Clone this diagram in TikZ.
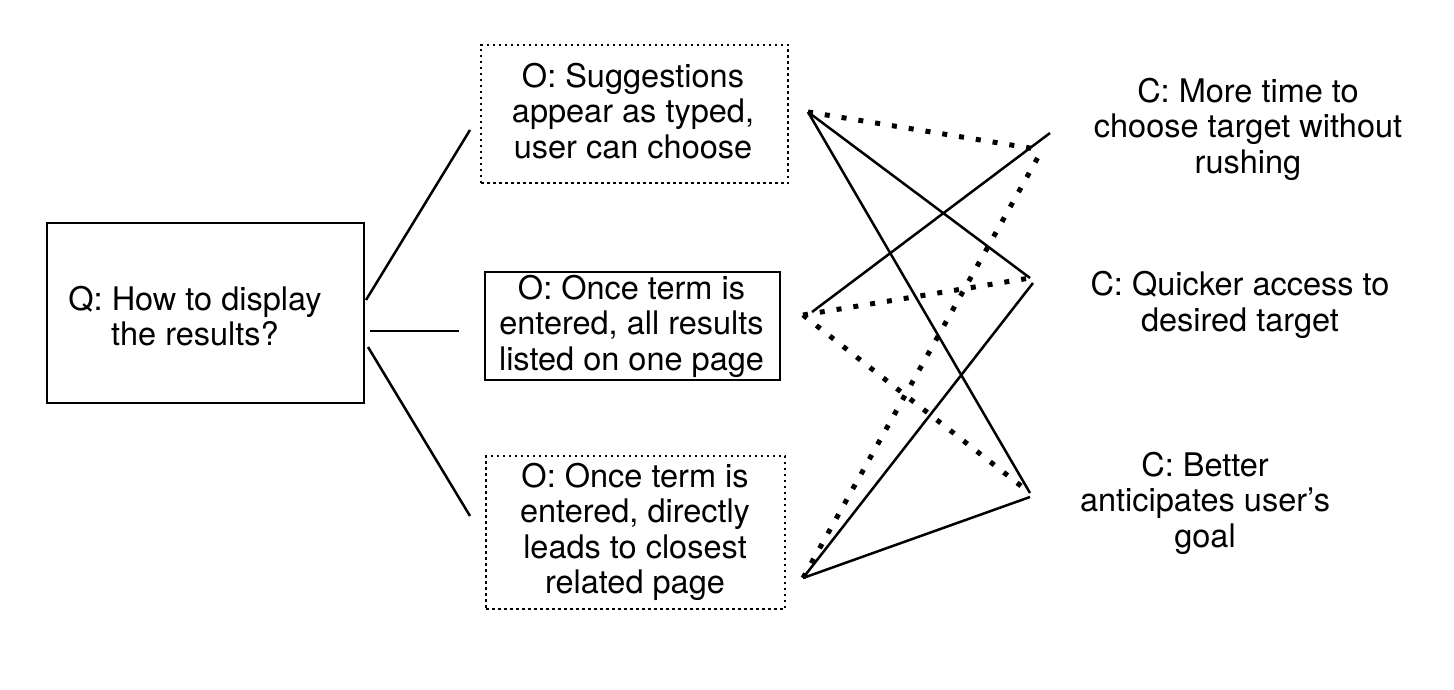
\documentclass[tikz,border=0pt]{standalone}
\usepackage{fontspec}
\setmainfont{TeX Gyre Heros}
\begin{document}
\begin{tikzpicture}[x=1pt,y=-1pt,
  txt/.style={font=\fontsize{32.5}{35.5}\selectfont, align=center, inner sep=0pt},
  frame/.style={draw, line width=2.5pt, rectangle, inner sep=0pt},
  solidbox/.style={frame},
  dotbox/.style={frame, dash pattern=on 2.5pt off 3.5pt},
  link/.style={line width=2.5pt},
  dotlink/.style={line width=5pt, dash pattern=on 5pt off 12pt}]
\useasboundingbox[fill=white] (0,0) rectangle (1454,690);

% frames
\node[solidbox, minimum width=317pt, minimum height=180pt] (qbox) at (205.5,313) {};
\node[dotbox, minimum width=307pt, minimum height=138pt] (o1box) at (634.5,114) {};
\node[solidbox, minimum width=295pt, minimum height=108pt] (o2box) at (632.5,326) {};
\node[dotbox, minimum width=299pt, minimum height=153pt] (o3box) at (635.5,532.5) {};

% texts
\node[txt] (q) at (195,316) {Q: How to display\\the results?};
\node[txt] (o1) at (633,111) {O: Suggestions\\appear as typed,\\user can choose};
\node[txt] (o2) at (631.5,326) {O: Once term is\\entered, all results\\listed on one page};
\node[txt] (o3) at (635,532) {O: Once term is\\entered, directly\\leads to closest\\related page};
\node[txt] (c1) at (1248,129) {C: More time to\\choose target without\\rushing};
\node[txt] (c2) at (1240,305) {C: Quicker access to\\desired target};
\node[txt] (c3) at (1205,503) {C: Better\\anticipates user’s\\goal};

% free ends of the connectors
\coordinate (qa) at (366,300);
\coordinate (qb) at (370,331);
\coordinate (qc) at (368,347);
\coordinate (o1l) at (470,130);
\coordinate (o2l) at (459,331);
\coordinate (o3l) at (470,516);
\coordinate (o1r) at (808,112);
\coordinate (o2r) at (803,315);
\coordinate (o2rs) at (812,312);
\coordinate (o3r) at (803,578);
\coordinate (c1l) at (1050,133);
\coordinate (c1d) at (1042,150);
\coordinate (c2l) at (1030,278);
\coordinate (c2s) at (1033,283);
\coordinate (c3l) at (1030,493);
\coordinate (c3s) at (1030,497);

\draw[link] (qa) -- (o1l);
\draw[link] (qb) -- (o2l);
\draw[link] (qc) -- (o3l);

\draw[dotlink] (o1r) -- (c1d);
\draw[link] (o1r) -- (c2l);
\draw[link] (o1r) -- (c3l);

\draw[link] (o2rs) -- (c1l);
\draw[dotlink] (o2r) -- (c2l);
\draw[dotlink] (o2r) -- (c3l);

\draw[dotlink] (o3r) -- (c1d);
\draw[link] (o3r) -- (c2s);
\draw[link] (o3r) -- (c3s);
\end{tikzpicture}
\end{document}
